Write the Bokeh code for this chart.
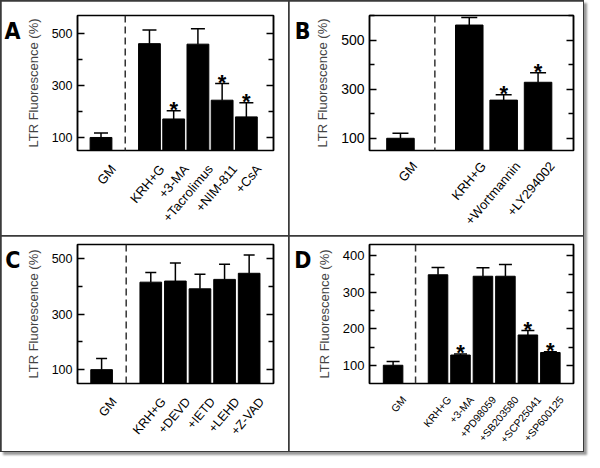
import math
from bokeh.plotting import figure
from bokeh.layouts import gridplot
from bokeh.models import (ColumnDataSource, Range1d, FixedTicker, LinearAxis,
                          Whisker, TeeHead, Span)
from bokeh.core.properties import value
from bokeh.embed import file_html
from bokeh.resources import INLINE

# ---------------- data ----------------
A_labels = ["GM", "KRH+G", "+3-MA", "+Tacrolimus", "+NIM-811", "+CsA"]
A_mean = [100, 460, 171, 458, 243, 179]
A_err = [17, 52, 32, 59, 64, 54]
A_sig = [False, False, True, False, True, True]

B_labels = ["GM", "KRH+G", "+Wortmannin", "+LY294002"]
B_mean = [100, 563, 256, 329]
B_err = [21, 31, 22, 39]
B_sig = [False, False, True, True]

C_labels = ["GM", "KRH+G", "+DEVD", "+IETD", "+LEHD", "+Z-VAD"]
C_mean = [100, 416, 420, 392, 426, 448]
C_err = [40, 35, 65, 53, 55, 66]
C_sig = [False, False, False, False, False, False]

D_labels = ["GM", "KRH+G", "+3-MA", "+PD98059", "+SB203580", "+SCP25041", "+SP600125"]
D_mean = [100, 348, 128, 344, 344, 183, 135]
D_err = [10, 20, 3, 23, 32, 12, 2]
D_sig = [False, False, True, False, False, True, True]

A_yticks = [100, 300, 500]
A_yminor = [200, 400]
B_yticks = [100, 300, 500]
B_yminor = [200, 400, 600]
C_yticks = [100, 300, 500]
C_yminor = [200, 400]
D_yticks = [100, 200, 300, 400]
D_yminor = [150, 250, 350]

FONT = "Liberation Sans"
FONT_V = value(FONT)
LETTER_FONT = "DejaVu Sans Condensed, Liberation Sans Narrow, Liberation Sans"
YLABEL = "LTR Fluorescence (%)"


def panel(letter, labels, mean, err, sig, yr, yt, ym, xr, bw, w, h,
          borders, tick_fs, cat_fs, head, lab_shift_px=13, cat_standoff=10):
    left, right, top, bottom = borders
    p = figure(width=w, height=h, output_backend="svg", toolbar_location=None,
               x_range=Range1d(*xr), y_range=Range1d(*yr),
               min_border_left=left, min_border_right=right,
               min_border_top=top, min_border_bottom=bottom)
    p.xgrid.visible = False
    p.ygrid.visible = False
    p.outline_line_color = "black"
    p.outline_line_width = 1.5
    p.background_fill_color = "white"
    p.border_fill_color = "white"

    # x positions: GM at 0, gap at 1, treatments after
    xs = [0] + [i + 1 for i in range(1, len(labels))]
    tops = [m + e for m, e in zip(mean, err)]
    src = ColumnDataSource(dict(x=xs, top=mean, hi=tops))

    p.vbar(x="x", top="top", bottom=yr[0], width=bw, source=src,
           fill_color="black", line_color="black")
    wk = Whisker(source=src, base="x", lower="top", upper="hi",
                 dimension="height", lower_head=None,
                 upper_head=TeeHead(size=head, line_width=1.5, line_color="black"),
                 line_width=1.5, line_color="black")
    p.add_layout(wk)

    sx = [x for x, s in zip(xs, sig) if s]
    sy = [t for t, s in zip(tops, sig) if s]
    if sx:
        p.text(x=sx, y=sy, text=["*"] * len(sx), text_align="center",
               text_baseline="alphabetic", y_offset=-1,
               text_font=FONT_V, text_font_style="bold",
               text_font_size="22px", text_color="black")

    p.add_layout(Span(location=1, dimension="height", line_color="#333333",
                      line_width=1.5, line_dash="7 4"))

    # x axis: category labels (slightly shifted like the original artwork)
    frame_w = w - left - right
    shift = lab_shift_px * (xr[1] - xr[0]) / frame_w
    p.extra_x_ranges = {"lab": Range1d(xr[0] - shift, xr[1] - shift)}
    p.xaxis[0].visible = False
    xa = LinearAxis(x_range_name="lab")
    p.add_layout(xa, "below")
    xa.ticker = FixedTicker(ticks=xs)
    xa.major_label_overrides = {x: l for x, l in zip(xs, labels)}
    xa.major_label_orientation = math.radians(50)
    xa.major_tick_line_color = None
    xa.minor_tick_line_color = None
    xa.axis_line_color = None
    xa.major_label_text_font = FONT
    xa.major_label_text_font_size = cat_fs
    xa.major_label_text_color = "black"
    xa.major_label_standoff = cat_standoff

    # y axes
    ya = p.yaxis[0]
    ra = LinearAxis()
    p.add_layout(ra, "right")
    for ax in (ya, ra):
        ax.ticker = FixedTicker(ticks=yt, minor_ticks=ym)
        ax.major_tick_in = 7
        ax.major_tick_out = 0
        ax.minor_tick_in = 5
        ax.minor_tick_out = 0
        ax.major_tick_line_width = 1.5
        ax.minor_tick_line_width = 1.5
        ax.axis_line_width = 1.5
        ax.major_label_text_font = FONT
        ax.major_label_text_font_size = tick_fs
        ax.major_label_text_color = "black"
        ax.major_label_standoff = 5
    ra.major_label_overrides = {t: "" for t in yt}
    ya.axis_label = YLABEL
    ya.axis_label_text_font = FONT
    ya.axis_label_text_font_style = "normal"
    ya.axis_label_text_font_size = "13px"
    ya.axis_label_standoff = 8

    # panel letter, as the label of an outer, otherwise empty, left axis
    # (leading empty line moves the letter down to sit beside the frame top)
    la = LinearAxis(ticker=FixedTicker(ticks=[]), axis_line_color=None,
                    major_tick_line_color=None, minor_tick_line_color=None,
                    axis_label="\n" + letter, axis_label_standoff=2,
                    axis_label_text_font=LETTER_FONT,
                    axis_label_text_font_style="bold",
                    axis_label_text_font_size="23px",
                    axis_label_text_color="black")
    la.axis_label_orientation = "horizontal"
    la.axis_label_align = "end"
    p.add_layout(la, "left")
    return p


pa = panel("A", A_labels, A_mean, A_err, A_sig, (50, 568), A_yticks, A_yminor,
           (-0.97, 7.12), 0.9, 287, 234, (72, 9, 10, 75), "12.5px", "13px", 14)
pb = panel("B", B_labels, B_mean, B_err, B_sig, (50, 602), B_yticks, B_yminor,
           (-0.9, 5.03), 0.8, 294, 234, (80, 10, 14, 76), "14px", "13px", 16,
           lab_shift_px=14, cat_standoff=7)
pc = panel("C", C_labels, C_mean, C_err, C_sig, (50, 552), C_yticks, C_yminor,
           (-0.98, 6.99), 0.88, 287, 215, (71, 15, 8, 64), "12.5px", "12.5px", 11)
pd = panel("D", D_labels, D_mean, D_err, D_sig, (50, 431), D_yticks, D_yminor,
           (-1.05, 8.03), 0.87, 294, 215, (78, 9, 8, 62), "13px", "10.5px", 13,
           lab_shift_px=11, cat_standoff=8)

g = gridplot([[pa, pb], [pc, pd]], toolbar_location=None)
g.spacing = 1
g.styles = {"background-color": "#3a3a3a", "border": "1px solid #3a3a3a",
            "box-shadow": "3px 3px 2px #9a9a9a"}

open("out.html", "w").write(file_html(g, INLINE))
